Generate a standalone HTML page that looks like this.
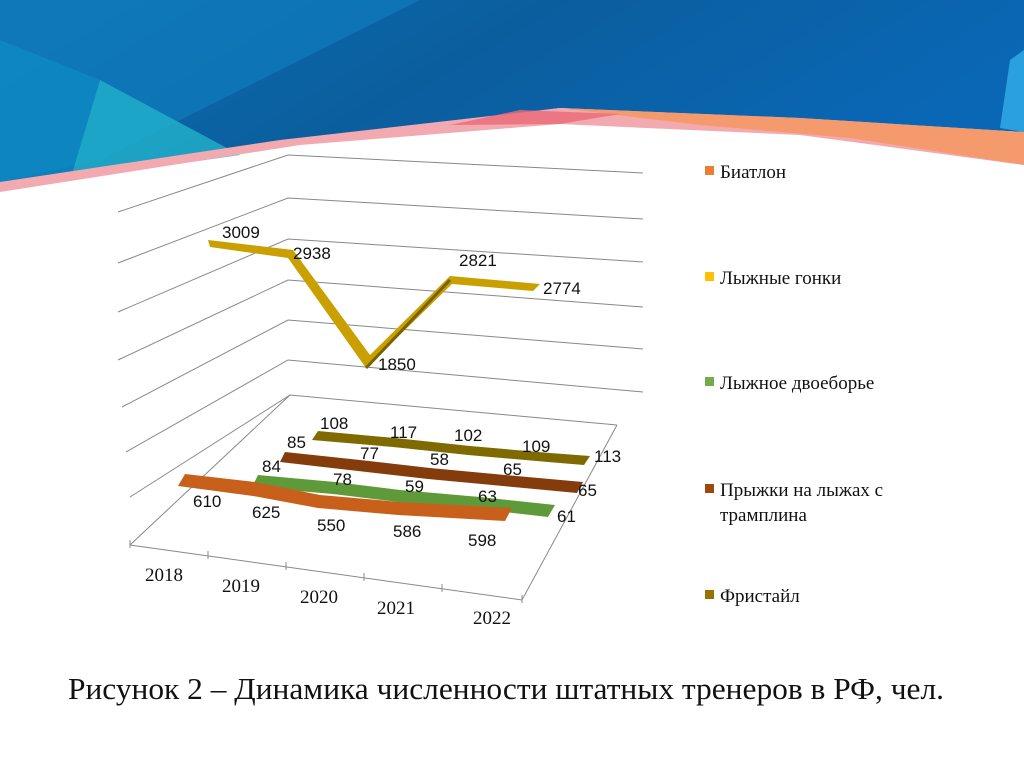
<!DOCTYPE html>
<html><head><meta charset="utf-8"><style>
html,body{margin:0;padding:0;background:#fff;}
svg{display:block}
</style></head><body>
<svg width="1024" height="767" viewBox="0 0 1024 767" xmlns="http://www.w3.org/2000/svg">
<defs>
<linearGradient id="bg" x1="0" y1="0" x2="1" y2="0.3">
<stop offset="0" stop-color="#0a6fb0"/><stop offset="0.5" stop-color="#0b5e9e"/><stop offset="1" stop-color="#0a67b5"/>
</linearGradient>
</defs>
<rect width="1024" height="767" fill="#fff"/>
<polygon points="0,0 1024,0 1024,132 560,108 0,182" fill="url(#bg)"/>
<polygon points="0,0 420,0 100,160 0,182" fill="#1180bf" opacity="0.6"/>
<polygon points="100,80 240,155 80,178 70,180" fill="#22b2cc" opacity="0.8"/>
<polygon points="100,80 0,40 0,182 70,180" fill="#0d8cc4" opacity="0.7"/>
<polygon points="1010,60 1024,50 1024,132 1000,128" fill="#2aa0e0"/>
<polygon points="0,182 280,140 560,108 800,118 1024,132 1024,165 800,135 560,124 300,145 0,192" fill="#f3a9b0"/>
<polygon points="560,108 800,118 1024,132 1024,165 850,138 700,125" fill="#f49a6c"/>
<polygon points="520,110 620,114 560,124 450,125" fill="#ea6a78" opacity="0.8"/>
<g fill="none" stroke="#888" stroke-width="1">
<polyline points="118,212 288,155 643,173"/>
<polyline points="118,263 288,198 643,219"/>
<polyline points="118,312 288,239 643,262"/>
<polyline points="118,360 288,280 643,307"/>
<polyline points="122,407 288,320 643,349"/>
<polyline points="126,452 288,360 643,392"/>
<polyline points="130,497 290,395 617,425"/>
<polyline points="130,545 290,395"/>
<polyline points="130,545 522,600 617,425"/>
<line x1="130" y1="540" x2="130" y2="548"/>
<line x1="208" y1="551" x2="208" y2="559"/>
<line x1="286" y1="562" x2="286" y2="570"/>
<line x1="364" y1="573" x2="364" y2="581"/>
<line x1="442" y1="584" x2="442" y2="592"/>
<line x1="522" y1="595" x2="522" y2="603"/>
</g>
<polygon points="208,240 293,250 370,355 450,276 540,284 533,291 452,284 366,368 288,258 210,247" fill="#c9a000"/>
<polyline points="366,368 450,280" stroke="#7a6200" stroke-width="3" fill="none"/>
<polygon points="318,431 395,438 470,446 550,453 590,456 584,465 548,462 468,455 393,447 312,440" fill="#7f6a00"/>
<polygon points="285,452 360,460 430,468 505,475 583,482 577,493 503,486 428,479 358,471 280,462" fill="#843c0c"/>
<polygon points="258,475 335,482 400,490 480,497 555,505 548,517 478,509 398,502 333,494 252,487" fill="#5f9a3a"/>
<polygon points="185,474 255,482 320,495 400,502 512,508 505,521 398,515 318,508 253,496 178,486" fill="#c8601c"/>
<g font-family="Liberation Sans, sans-serif" font-size="17" fill="#111">
<text x="222" y="238">3009</text><text x="293" y="259">2938</text><text x="378" y="370">1850</text><text x="459" y="266">2821</text><text x="543" y="294">2774</text>
<text x="320" y="429">108</text><text x="390" y="438">117</text><text x="454" y="441">102</text><text x="522" y="452">109</text><text x="594" y="462">113</text>
<text x="287" y="448">85</text><text x="360" y="459">77</text><text x="430" y="465">58</text><text x="503" y="475">65</text><text x="578" y="496">65</text>
<text x="262" y="472">84</text><text x="333" y="485">78</text><text x="405" y="492">59</text><text x="478" y="502">63</text><text x="557" y="522">61</text>
<text x="193" y="507">610</text><text x="252" y="518">625</text><text x="317" y="531">550</text><text x="393" y="537">586</text><text x="468" y="546">598</text>
</g>
<g font-family="Liberation Serif, serif" font-size="19" fill="#111">
<text x="145" y="581">2018</text><text x="222" y="592">2019</text><text x="300" y="603">2020</text><text x="377" y="614">2021</text><text x="473" y="624">2022</text>
</g>
<g font-family="Liberation Serif, serif" font-size="19" fill="#111">
<rect x="705" y="166" width="9" height="9" fill="#ed7d31"/><text x="720" y="178">Биатлон</text>
<rect x="705" y="272" width="9" height="9" fill="#ffc000"/><text x="720" y="284">Лыжные гонки</text>
<rect x="705" y="377" width="9" height="9" fill="#70ad47"/><text x="720" y="389">Лыжное двоеборье</text>
<rect x="705" y="484" width="9" height="9" fill="#9e480e"/><text x="720" y="496">Прыжки на лыжах с</text>
<text x="720" y="521">трамплина</text>
<rect x="705" y="590" width="9" height="9" fill="#997300"/><text x="720" y="602">Фристайл</text>
</g>
<text x="506" y="699" text-anchor="middle" font-family="Liberation Serif, serif" font-size="31" fill="#111" textLength="876" lengthAdjust="spacingAndGlyphs">Рисунок 2 – Динамика численности штатных тренеров в РФ, чел.</text>
</svg>
</body></html>
